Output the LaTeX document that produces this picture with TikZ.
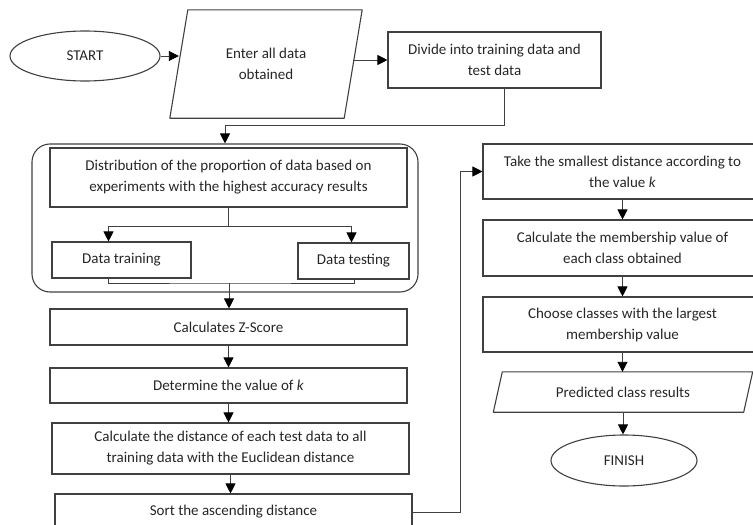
\documentclass[tikz,border=0pt]{standalone}
\usepackage{fontspec}
\setmainfont{Carlito}
\usetikzlibrary{arrows.meta,shapes.geometric,positioning}
\tikzset{
  stepbox/.style={
    shape = rectangle,
    draw = black!75,
    line width = 1.1pt,
    text = black!85,
    align = center,
    inner sep = 2pt
  },
  terminal/.style={
    shape = ellipse,
    draw = black!75,
    line width = 1.1pt,
    text = black!85
  },
  iobox/.style={
    shape = rectangle,
    text = black!85,
    align = center,
    inner sep = 2pt
  },
  iolines/.style={
    draw = black!75,
    line width = 1.1pt,
    line join = round
  },
  groupbox/.style={
    shape = rectangle,
    draw = black!75,
    line width = 1.1pt,
    rounded corners = 18pt
  },
}
\tikzset{
  flow/.style={
    draw = black!75,
    line width = 0.9pt,
    -{Triangle[length=10pt,width=10pt,color=black]}
  },
  link/.style={
    draw = black!75,
    line width = 0.9pt
  },
  every picture/.style = {
    font=\fontsize{15}{21}\selectfont
  },
}

\begin{document}
\begin{tikzpicture}[x=1pt,y=-1pt]
\useasboundingbox (0,0) rectangle (753,525);
\node[terminal, minimum width=150pt, minimum height=50pt] (start) at (85,56) {START};
\node[iobox, minimum width=174pt, minimum height=108pt] (enter) at (266,64) {Enter all data\\obtained};
\node[stepbox, minimum width=213pt, minimum height=56pt] (divide) at (494.5,60) {Divide into training data and\\test data};
\node[groupbox, minimum width=386pt, minimum height=148pt] (frame) at (225,218) {};
\node[stepbox, minimum width=357pt, minimum height=59pt] (dist) at (228.5,177.5) {Distribution of the proportion of data based on\\experiments with the highest accuracy results};
\node[stepbox, minimum width=139pt, minimum height=36pt] (train) at (121.5,260) {Data training};
\node[stepbox, minimum width=111pt, minimum height=36pt] (test) at (353.5,261) {Data testing};
\node[stepbox, minimum width=357pt, minimum height=36pt] (zscore) at (228.5,327) {Calculates Z-Score};
\node[stepbox, minimum width=357pt, minimum height=35pt] (kval) at (228.5,385.5) {Determine the value of \textit{k}};
\node[stepbox, minimum width=357pt, minimum height=51pt] (euclid) at (230.5,448.5) {Calculate the distance of each test data to all\\training data with the Euclidean distance};
\node[stepbox, minimum width=357pt, minimum height=36pt] (sort) at (233.5,512) {Sort the ascending distance};
\node[stepbox, minimum width=279pt, minimum height=55pt] (take) at (622.5,171.5) {Take the smallest distance according to\\the value \textit{k}};
\node[stepbox, minimum width=279pt, minimum height=56pt] (member) at (622.5,248) {Calculate the membership value of\\each class obtained};
\node[stepbox, minimum width=279pt, minimum height=55pt] (choose) at (622.5,324.5) {Choose classes with the largest\\membership value};
\node[iobox, minimum width=250pt, minimum height=40pt] (predict) at (623,392) {Predicted class results};
\node[terminal, minimum width=146pt, minimum height=51pt] (finish) at (624,460.5) {FINISH};
\foreach \n/\s in {enter/9,predict/4.5}
  \draw[iolines] ([xshift=\s pt]\n.north west) -- ([xshift=\s pt]\n.north east)
    -- ([xshift=-\s pt]\n.south east) -- ([xshift=-\s pt]\n.south west) -- cycle;

\draw[flow] (start.east) -- (enter.west |- start.east);
\draw[flow] (enter.east |- divide.west) -- (divide.west);
\coordinate (split) at (225,125);
\draw[flow] ([xshift=10pt]divide.south) |- (split) -- (frame.north);
\draw[link] (dist.south) -- ++(0,19) coordinate (fork);
\draw[flow] (fork) -| ([xshift=-13pt]train.north);
\draw[flow] (fork) -| ([xshift=-2pt]test.north);
\coordinate (join) at (229,283);
\draw[link] ([xshift=-13pt]train.south) |- (join) -| ([xshift=1pt]test.south);
\draw[flow] (join) -- (join |- zscore.north);
\foreach \a/\b in {zscore/kval,kval/euclid,euclid/sort,take/member,member/choose,choose/predict,predict/finish}
  \draw[flow] (\a.south) -- (\a.south |- \b.north);
\coordinate (turn) at (460,0);
\draw[flow] (sort.east) -| (turn |- take.west) -- (take.west);
\end{tikzpicture}
\end{document}
